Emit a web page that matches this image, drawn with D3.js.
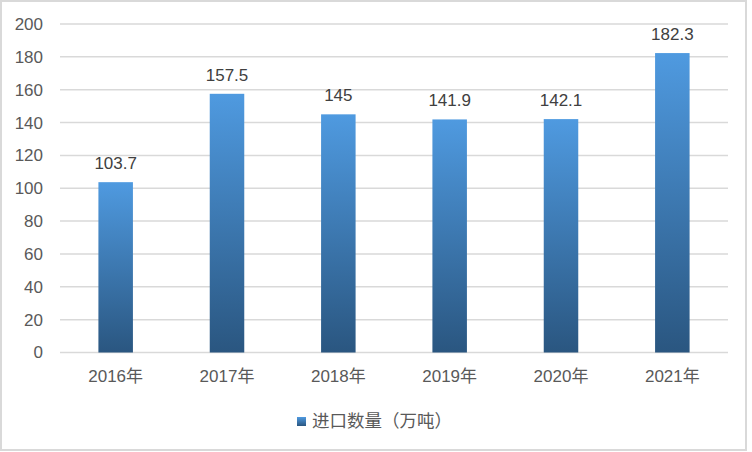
<!DOCTYPE html>
<html><head><meta charset="utf-8">
<script src="https://cdn.jsdelivr.net/npm/d3@7"></script>
<style>body{margin:0;background:#fff}svg{display:block}</style>
</head><body>
<script>
const categories = ["2016年","2017年","2018年","2019年","2020年","2021年"];
const values = [103.7,157.5,145,141.9,142.1,182.3];
const labels = ["103.7","157.5","145","141.9","142.1","182.3"];
const yTicks = [0,20,40,60,80,100,120,140,160,180,200];
const seriesName = "进口数量（万吨）";

const W=752,H=452;
const font = "'Liberation Sans','Noto Sans CJK SC',sans-serif";
const svg=d3.select("body").append("svg").attr("width",W).attr("height",H);
svg.append("rect").attr("x",1).attr("y",1).attr("width",745).attr("height",449)
  .attr("fill","#fff").attr("stroke","#d9d9d9").attr("stroke-width",2);

const defs=svg.append("defs");
const g=defs.append("linearGradient").attr("id","bg").attr("x1",0).attr("y1",0).attr("x2",0).attr("y2",1);
g.append("stop").attr("offset","0%").attr("stop-color","#4f9ae0");
g.append("stop").attr("offset","100%").attr("stop-color","#2a5680");

const x=d3.scaleBand().domain(categories).range([60,728]).paddingInner(0.69).paddingOuter(0.345);
const y=d3.scaleLinear().domain([0,200]).range([352.5,24]);

svg.append("g").selectAll("line").data(yTicks).join("line")
  .attr("x1",60).attr("x2",728).attr("y1",d=>y(d)).attr("y2",d=>y(d))
  .attr("stroke","#d9d9d9").attr("stroke-width",1.5);

const yAxis=svg.append("g").attr("transform","translate(60,0)")
  .call(d3.axisLeft(y).tickValues(yTicks).tickSize(0).tickPadding(17));
yAxis.select(".domain").remove();
yAxis.selectAll("text").attr("font-family",font).attr("font-size",17).attr("fill","#595959");

svg.append("g").selectAll("rect").data(values).join("rect")
  .attr("x",(d,i)=>x(categories[i])).attr("width",x.bandwidth())
  .attr("y",d=>y(d)).attr("height",d=>y(0)-y(d)).attr("fill","url(#bg)");

svg.append("g").selectAll("text").data(values).join("text")
  .attr("x",(d,i)=>x(categories[i])+x.bandwidth()/2).attr("y",d=>y(d)-13)
  .attr("text-anchor","middle").attr("font-family",font).attr("font-size",17).attr("fill","#404040")
  .text((d,i)=>labels[i]);

const xAxis=svg.append("g").attr("transform",`translate(0,${y(0)})`)
  .call(d3.axisBottom(x).tickSize(0).tickPadding(17));
xAxis.select(".domain").remove();
xAxis.selectAll("text").attr("font-family",font).attr("font-size",17).attr("fill","#595959");

const lg=svg.append("g");
lg.append("rect").attr("x",297).attr("y",417).attr("width",9).attr("height",9).attr("fill","url(#bg)");
lg.append("text").attr("x",312).attr("y",427).attr("font-family",font).attr("font-size",17.5)
  .attr("fill","#595959").text(seriesName);
</script>
</body></html>
